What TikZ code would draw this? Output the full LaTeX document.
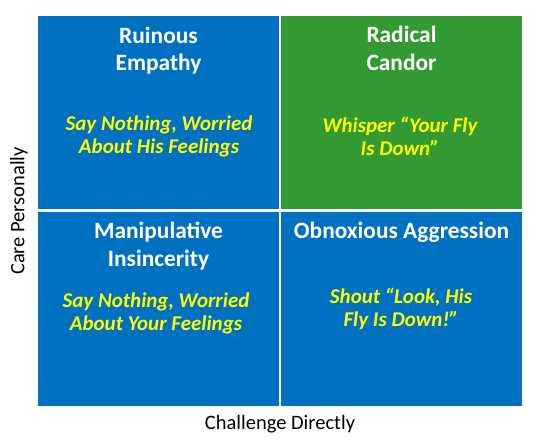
\documentclass[tikz,border=0pt]{standalone}
\usepackage{fontspec}
\setmainfont{Carlito}
\usepackage{tikz}
\definecolor{QuadBlue}{HTML}{0070C0}
\definecolor{QuadGreen}{HTML}{339933}
\definecolor{TipYellow}{HTML}{FFFF00}
\tikzset{
  quadbox/.style={
    fill=QuadBlue,draw=none,inner sep=0pt,
    minimum width=241pt,minimum height=193pt
  },
  titletext/.style={
    font=\fontsize{23.4}{27.5}\selectfont\bfseries,
    text=white,align=center,inner sep=0pt
  },
  tiptext/.style={
    font=\fontsize{21}{23}\selectfont\bfseries\itshape,
    text=TipYellow,align=center,inner sep=0pt
  },
  axistext/.style={
    font=\fontsize{20.5}{24}\selectfont,text=black,inner sep=0pt
  },
}

\begin{document}
\begin{tikzpicture}[x=1pt,y=-1pt]
  \useasboundingbox[fill=white] (0,0) rectangle (545,447);
  % four quadrants
  \node[quadbox] (ruin) at (158.5,112.5) {};
  \node[quadbox,fill=QuadGreen] (radical) at (401.5,112.5) {};
  \node[quadbox,minimum height=194pt] (manip) at (158.5,309) {};
  \node[quadbox,minimum height=194pt] (obnox) at (401.5,309) {};
  % quadrant titles
  \node[titletext] (ruintitle) at (158.5,50.5) {Ruinous\\Empathy};
  \node[titletext] (radtitle) at (401.5,48.5) {Radical\\Candor};
  \node[titletext] (maniptitle) at (158.5,246) {Manipulative\\Insincerity};
  \node[titletext] (obnoxtitle) at (401.5,232) {Obnoxious Aggression};
  % examples
  \node[tiptext] (ruintip) at (159,136) {Say Nothing, Worried\\About His Feelings};
  \node[tiptext] (radtip) at (400,136) {Whisper “Your Fly\\Is Down”};
  \node[tiptext] (maniptip) at (156,313) {Say Nothing, Worried\\About Your Feelings};
  \node[tiptext] (obnoxtip) at (401,309) {Shout “Look, His\\Fly Is Down!”};
  % axes
  \node[axistext] (xaxis) at (280,424) {Challenge Directly};
  \node[axistext,rotate=90] (yaxis) at (19,211) {Care Personally};
\end{tikzpicture}
\end{document}
